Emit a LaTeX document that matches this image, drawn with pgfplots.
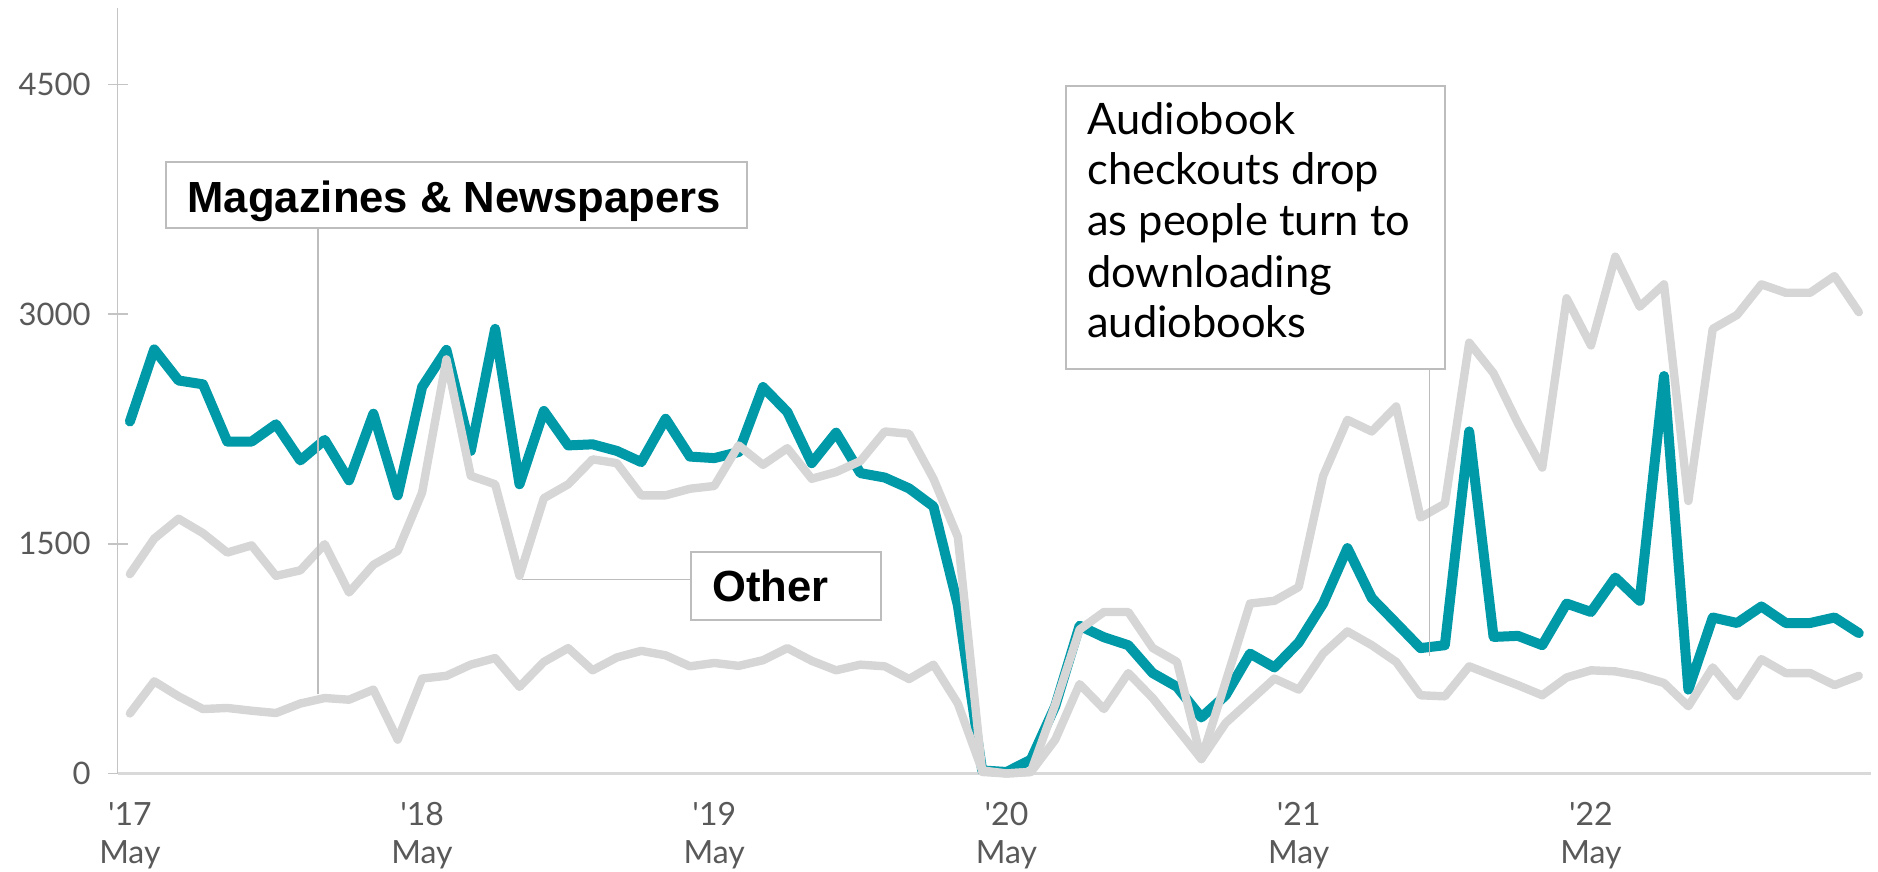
\documentclass[border=0pt]{standalone}
\usepackage{pgfplots}
\pgfplotsset{compat=1.18}
\usepackage{fontspec}
\setmainfont{Lato}
\newfontfamily\arialfont{Liberation Sans}
\definecolor{teal1}{HTML}{0099A8}
\definecolor{lgray}{HTML}{D6D6D6}
\definecolor{axgray}{HTML}{C4C4C4}
\definecolor{xaxgray}{HTML}{D9D9D9}
\definecolor{txtgray}{HTML}{595959}
\definecolor{boxgray}{HTML}{BDBDBD}
\newcommand\labfont{\arialfont\bfseries\fontsize{21.8}{25}\selectfont}
\newcommand\annfont{\fontsize{21.7}{25.3}\selectfont}
\begin{document}
\begin{tikzpicture}
\path[use as bounding box] (-58.85pt,-49.25pt) rectangle (880.15pt,386.75pt);
\begin{axis}[
  scale only axis, width=876.65pt, height=382.75pt,
  xmin=-0.5, xmax=71.5, ymin=0, ymax=5000,
  axis x line*=bottom, axis y line*=left,
  x axis line style={draw=xaxgray, line width=1.2pt, -},
  y axis line style={draw=axgray, line width=0.8pt, -},
  xtick={0,12,24,36,48,60},
  xticklabels={{\textquotesingle17\\May},{\textquotesingle18\\May},{\textquotesingle19\\May},{\textquotesingle20\\May},{\textquotesingle21\\May},{\textquotesingle22\\May}},
  x tick style={draw=none},
  ytick={0,1500,3000,4500},
  yticklabels={0,1500,3000,4500},
  y tick style={draw=axgray, line width=0.8pt},
  tick align=center, major tick length=10pt,
  ticklabel style={font=\fontsize{15.5}{19}\selectfont, text=txtgray},
  xticklabel style={align=center, yshift=-6pt, font=\fontsize{16}{19}\selectfont},
  yticklabel style={xshift=-5pt},
  clip=false,
]
\addplot[teal1, mark=none, line width=5pt, line join=round, line cap=round] coordinates {
(0,2299)(1,2770)(2,2567)(3,2542)(4,2168)(5,2168)(6,2281)(7,2045)(8,2179)(9,1915)
(10,2350)(11,1817)(12,2524)(13,2767)(14,2107)(15,2904)(16,1889)(17,2368)(18,2143)(19,2150)
(20,2107)(21,2034)(22,2317)(23,2070)(24,2060)(25,2100)(26,2524)(27,2361)(28,2027)(29,2226)
(30,1962)(31,1933)(32,1862)(33,1744)(34,1100)(35,20)(36,10)(37,90)(38,440)(39,965)
(40,890)(41,838)(42,656)(43,566)(44,366)(45,511)(46,783)(47,693)(48,856)(49,1110)
(50,1472)(51,1146)(52,983)(53,819)(54,838)(55,2234)(56,892)(57,899)(58,838)(59,1110)
(60,1055)(61,1280)(62,1128)(63,2596)(64,548)(65,1019)(66,983)(67,1091)(68,983)(69,983)
(70,1019)(71,917)};
\addplot[lgray, mark=none, line width=4.2pt, line join=round, line cap=round] coordinates {
(0,1302)(1,1534)(2,1664)(3,1570)(4,1443)(5,1490)(6,1291)(7,1327)(8,1498)(9,1182)
(10,1363)(11,1454)(12,1835)(13,2705)(14,1944)(15,1889)(16,1291)(17,1798)(18,1889)(19,2052)
(20,2027)(21,1817)(22,1817)(23,1860)(24,1878)(25,2143)(26,2016)(27,2125)(28,1925)(29,1969)
(30,2041)(31,2234)(32,2219)(33,1925)(34,1545)(35,10)(36,0)(37,10)(38,450)(39,940)
(40,1055)(41,1055)(42,820)(43,729)(44,94)(45,600)(46,1110)(47,1128)(48,1218)(49,1943)
(50,2310)(51,2234)(52,2397)(53,1672)(54,1762)(55,2814)(56,2614)(57,2288)(58,1998)(59,3104)
(60,2796)(61,3376)(62,3049)(63,3195)(64,1780)(65,2904)(66,2995)(67,3195)(68,3140)(69,3140)
(70,3249)(71,3013)};
\addplot[lgray, mark=none, line width=4.2pt, line join=round, line cap=round] coordinates {
(0,392)(1,602)(2,504)(3,421)(4,428)(5,410)(6,395)(7,457)(8,493)(9,482)
(10,548)(11,221)(12,620)(13,638)(14,711)(15,754)(16,566)(17,729)(18,819)(19,674)
(20,758)(21,801)(22,772)(23,700)(24,722)(25,703)(26,740)(27,819)(28,736)(29,674)
(30,711)(31,700)(32,617)(33,711)(34,457)(35,20)(36,0)(37,10)(38,221)(39,584)
(40,421)(41,656)(42,493)(43,294)(44,94)(45,330)(46,475)(47,620)(48,548)(49,783)
(50,928)(51,838)(52,729)(53,511)(54,504)(55,700)(56,638)(57,577)(58,511)(59,627)
(60,674)(61,667)(62,638)(63,591)(64,439)(65,693)(66,504)(67,747)(68,656)(69,656)
(70,577)(71,638)};
% leader lines
\draw[boxgray, line width=0.75pt] (axis cs:7.72,3562) -- (axis cs:7.72,518);
\draw[boxgray, line width=0.75pt] (axis cs:23.05,1268) -- (axis cs:16.11,1268);
\draw[boxgray, line width=0.75pt] (axis cs:53.37,2644) -- (axis cs:53.37,768);
% boxes
\draw[boxgray, line width=1pt, fill=white] (axis cs:1.466,3562) rectangle (axis cs:25.36,3992);
\node[anchor=base west, inner sep=0pt, font=\labfont] at (axis cs:2.356,3666) {Magazines \& Newspapers};
\draw[boxgray, line width=1pt, fill=white] (axis cs:23.05,1004) rectangle (axis cs:30.85,1445.5);
\node[anchor=base west, inner sep=0pt, font=\labfont] at (axis cs:23.91,1124) {Other};
\draw[boxgray, line width=1pt, fill=white] (axis cs:38.44,2644) rectangle (axis cs:54.0,4491);
\node[anchor=base west, inner sep=0pt, font=\annfont] at (axis cs:39.30,4174) {Audiobook};
\node[anchor=base west, inner sep=0pt, font=\annfont] at (axis cs:39.30,3848) {checkouts drop};
\node[anchor=base west, inner sep=0pt, font=\annfont] at (axis cs:39.30,3516) {as people turn to};
\node[anchor=base west, inner sep=0pt, font=\annfont] at (axis cs:39.30,3177) {downloading};
\node[anchor=base west, inner sep=0pt, font=\annfont] at (axis cs:39.30,2851) {audiobooks};
\end{axis}
\end{tikzpicture}
\end{document}
